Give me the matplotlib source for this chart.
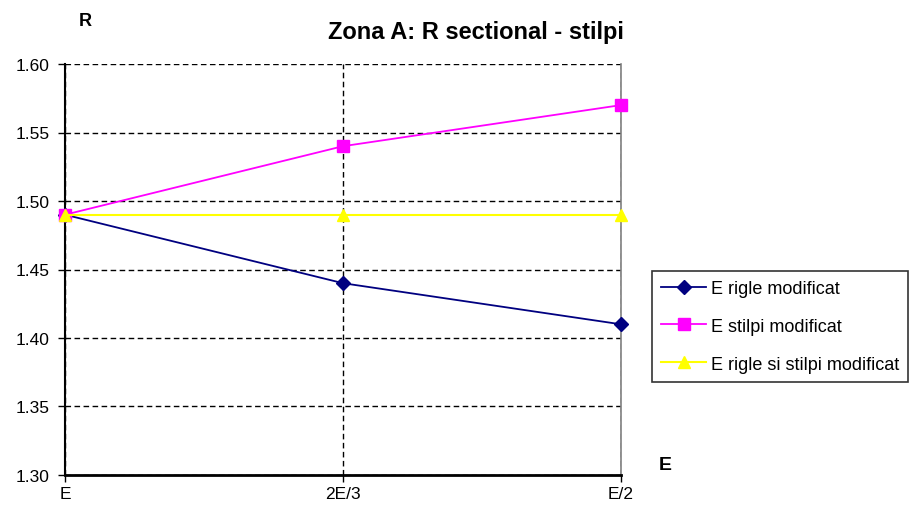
import matplotlib
matplotlib.use("Agg")
import matplotlib.pyplot as plt

plt.rcParams['font.family'] = ['Liberation Sans', 'DejaVu Sans']

categories = ["E", "2E/3", "E/2"]
rigle = [1.49, 1.44, 1.41]
stilpi = [1.49, 1.54, 1.57]
rigle_stilpi = [1.49, 1.49, 1.49]
series_names = ["E rigle modificat", "E stilpi modificat", "E rigle si stilpi modificat"]
y_ticks = [1.30, 1.35, 1.40, 1.45, 1.50, 1.55, 1.60]

fig = plt.figure(figsize=(9.12, 5.06), dpi=100)
ax = fig.add_axes([65/912, 1-476/506, (621-65)/912, (476-65)/506])

x = list(range(len(categories)))
ax.plot(x, rigle, color="#000080", marker="D", markersize=7, lw=1.3,
        label=series_names[0], zorder=4, clip_on=False)
ax.plot(x, stilpi, color="#FF00FF", marker="s", markersize=9, lw=1.3,
        label=series_names[1], zorder=4, clip_on=False)
ax.plot(x, rigle_stilpi, color="#FFFF00", marker="^", markersize=9, lw=1.5,
        label=series_names[2], zorder=4, clip_on=False)

ax.set_xlim(0, 2)
ax.set_ylim(1.30, 1.60)
ax.set_xticks(x)
ax.set_xticklabels(categories, fontsize=12.5)
ax.set_yticks(y_ticks)
ax.set_yticklabels([f"{v:.2f}" for v in y_ticks], fontsize=12.5)

ax.grid(True, color="black", linestyle=(0, (4, 2.5)), linewidth=1.0, zorder=1)
ax.set_axisbelow(True)

ax.spines["top"].set_visible(False)
ax.spines["right"].set_color("#808080")
ax.spines["right"].set_linewidth(1.2)
ax.spines["left"].set_linewidth(1.5)
ax.spines["bottom"].set_linewidth(2.0)
ax.tick_params(axis="y", direction="out", length=5, width=1, pad=6)
ax.tick_params(axis="x", direction="out", length=5, width=1, pad=3)

fig.text(476/912, 1-32/506, "Zona A: R sectional - stilpi", ha="center", va="center",
         fontsize=17, fontweight="bold")
fig.text(85/912, 1-22/506, "R", ha="center", va="center", fontsize=13, fontweight="bold")
fig.text(665/912, 1-466/506, "E", ha="center", va="center", fontsize=14, fontweight="bold")

leg = fig.legend(loc="upper left", bbox_to_anchor=(652/912, 1-272/506), fontsize=13,
                 frameon=True, fancybox=False, edgecolor="black", borderpad=0.5,
                 labelspacing=1.15, handlelength=2.5, handletextpad=0.25, borderaxespad=0)
leg.get_frame().set_linewidth(1.2)

fig.savefig("out.png", dpi=100)
